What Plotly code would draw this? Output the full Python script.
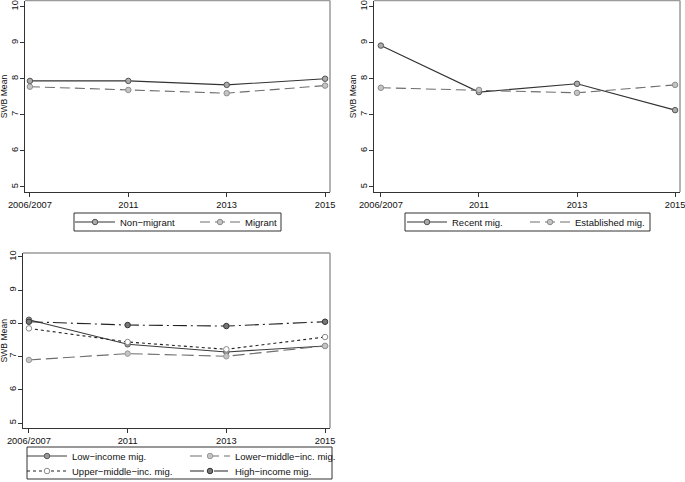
import plotly.graph_objects as go

W, H = 685, 482

waves = ["2006/2007", "2011", "2013", "2015"]
y_ticks = [5, 6, 7, 8, 9, 10]
y_title = "SWB Mean"

non_migrant = [7.94, 7.94, 7.83, 8.00]
migrant = [7.78, 7.69, 7.60, 7.81]

recent_mig = [8.92, 7.63, 7.86, 7.13]
established_mig = [7.75, 7.69, 7.61, 7.83]

low_income = [8.11, 7.37, 7.14, 7.32]
lower_middle = [6.90, 7.09, 7.01, 7.32]
upper_middle = [7.85, 7.44, 7.22, 7.59]
high_income = [8.05, 7.95, 7.92, 8.05]

FONT = "Liberation Sans, Arial, sans-serif"


def fx(p):
    return p / W


def fy(p):
    return 1 - p / H


def trace(y, name, xa, ya, legend, lcolor, dash, mfill, medge):
    return go.Scatter(
        x=waves, y=y, name=name, xaxis=xa, yaxis=ya, legend=legend,
        mode="lines+markers",
        line=dict(color=lcolor, width=1.1, dash=dash),
        marker=dict(symbol="circle", size=5.5, color=mfill,
                    line=dict(color=medge, width=1)),
    )


fig = go.Figure()
fig.add_trace(trace(non_migrant, "Non\u2212migrant", "x", "y", "legend",
                    "#333333", "solid", "#aaaaaa", "#555555"))
fig.add_trace(trace(migrant, "Migrant", "x", "y", "legend",
                    "#6e6e6e", "10px,5px", "#c4c4c4", "#8c8c8c"))
fig.add_trace(trace(recent_mig, "Recent mig.", "x2", "y2", "legend2",
                    "#333333", "solid", "#aaaaaa", "#555555"))
fig.add_trace(trace(established_mig, "Established mig.", "x2", "y2", "legend2",
                    "#6e6e6e", "10px,5px", "#c4c4c4", "#8c8c8c"))
fig.add_trace(trace(low_income, "Low\u2212income mig.", "x3", "y3", "legend3",
                    "#3c3c3c", "solid", "#999999", "#5a5a5a"))
fig.add_trace(trace(lower_middle, "Lower\u2212middle\u2212inc. mig.", "x3", "y3", "legend3",
                    "#6e6e6e", "12px,5px", "#c4c4c4", "#999999"))
fig.add_trace(trace(upper_middle, "Upper\u2212middle\u2212inc. mig.", "x3", "y3", "legend4",
                    "#222222", "3px,3px", "#ffffff", "#8a8a8a"))
fig.add_trace(trace(high_income, "High\u2212income mig.", "x3", "y3", "legend4",
                    "#222222", "14px,4px,2px,4px", "#777777", "#333333"))

xcommon = dict(
    showline=True, linecolor="#333333", linewidth=1,
    ticks="outside", ticklen=4, tickcolor="#333333", tickwidth=1,
    showgrid=False, zeroline=False, automargin=False,
    tickfont=dict(size=9.3, color="#111111", family=FONT),
    categoryorder="array", categoryarray=waves,
)
ycommon = dict(
    showline=True, linecolor="#333333", linewidth=1,
    ticks="outside", ticklen=4, tickcolor="#333333", tickwidth=1,
    showgrid=False, zeroline=False, automargin=False,
    tickvals=y_ticks, tickangle=-90, ticklabelstandoff=-2,
    tickfont=dict(size=9.3, color="#111111", family=FONT),
)

panels = {
    1: dict(x=(25, 330), y=(192, 0.5), xr=(-0.05, 3.05), yr=(4.86, 10.17), tx=4),
    2: dict(x=(374, 680), y=(192, 0.5), xr=(-0.07, 3.05), yr=(4.86, 10.17), tx=353),
    3: dict(x=(23, 330), y=(428, 253), xr=(-0.06, 3.05), yr=(4.85, 10.12), tx=3),
}

layout = dict(
    width=W, height=H, autosize=False,
    margin=dict(l=0, r=0, t=0, b=0, pad=0, autoexpand=False),
    paper_bgcolor="white", plot_bgcolor="white",
    font=dict(family=FONT, color="#111111"),
)
shapes = []
annotations = []
for i, p in panels.items():
    s = "" if i == 1 else str(i)
    layout["xaxis" + s] = dict(xcommon, domain=[fx(p["x"][0]), fx(p["x"][1])],
                               range=list(p["xr"]), anchor="y" + s)
    layout["yaxis" + s] = dict(ycommon, domain=[fy(p["y"][0]), fy(p["y"][1])],
                               range=list(p["yr"]), anchor="x" + s)
    shapes.append(dict(type="line", xref="x%s domain" % s, yref="y%s domain" % s,
                       x0=0, x1=1, y0=1, y1=1, line=dict(color="#9a9a9a", width=1.5)))
    shapes.append(dict(type="line", xref="x%s domain" % s, yref="y%s domain" % s,
                       x0=1, x1=1, y0=0, y1=1, line=dict(color="#9a9a9a", width=1.5)))
    annotations.append(dict(text=y_title, textangle=-90, showarrow=False,
                            xref="paper", yref="y%s domain" % s,
                            x=fx(p["tx"]), y=0.5, xanchor="center", yanchor="middle",
                            font=dict(size=8.6, color="#111111", family=FONT)))

# legend boxes
for (x0, x1, y0, y1) in [(74, 281, 213, 231), (405, 650, 213, 231), (27, 332, 447, 479)]:
    shapes.append(dict(type="rect", xref="paper", yref="paper",
                       x0=fx(x0), x1=fx(x1), y0=fy(y1), y1=fy(y0),
                       line=dict(color="#333333", width=1)))
layout["shapes"] = shapes
layout["annotations"] = annotations

legcommon = dict(orientation="h", xanchor="left", yanchor="middle",
                 bgcolor="rgba(0,0,0,0)", borderwidth=0,
                 font=dict(size=9.5, color="#111111", family=FONT),
                 itemwidth=40, tracegroupgap=0, itemclick=False)
layout["legend"] = dict(legcommon, x=fx(70), y=fy(222), entrywidth=70)
layout["legend2"] = dict(legcommon, x=fx(402), y=fy(222), entrywidth=68)
layout["legend3"] = dict(legcommon, x=fx(22), y=fy(456), entrywidth=108)
layout["legend4"] = dict(legcommon, x=fx(22), y=fy(471), entrywidth=108)

fig.update_layout(**layout)
fig.write_html("out.html", config={"displayModeBar": False},
               post_script="document.body.style.margin='0';document.body.style.padding='0';")
